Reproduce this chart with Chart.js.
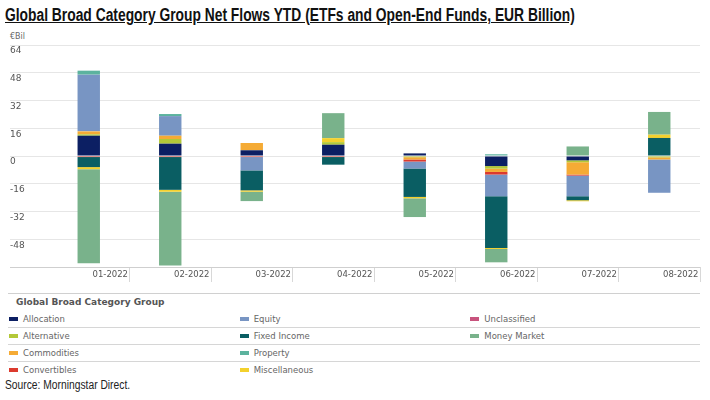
<!DOCTYPE html>
<html>
<head>
<meta charset="utf-8">
<script src="https://cdn.jsdelivr.net/npm/chart.js@4"></script>
<style>
  body { margin: 0; width: 710px; height: 400px; background: #fff; position: relative; overflow: hidden; }
  #title { position: absolute; left: 5px; top: 5px; font-family: "Liberation Sans", Arial, sans-serif; font-weight: bold; font-size: 18px; color: #111; text-decoration: underline; white-space: nowrap; transform-origin: 0 0; }
  #unit { position: absolute; left: 10px; top: 32px; font-family: "DejaVu Sans", sans-serif; font-size: 8px; color: #666; }
  #wrap { position: absolute; left: 0; top: 30px; width: 710px; height: 255px; }
  #legend { position: absolute; left: 8px; top: 293px; width: 692px; border-top: 1px solid #d0d0d0; font-family: "DejaVu Sans", sans-serif; }
  #legend .head { height: 17px; line-height: 17px; padding-left: 8px; font-size: 9px; font-weight: bold; color: #555; }
  #legend .grid { display: grid; grid-auto-flow: column; grid-template-rows: repeat(4, 17px); grid-template-columns: repeat(3, 1fr); }
  #legend .cell { height: 16px; line-height: 16px; font-size: 8.5px; color: #666; border-bottom: 1px solid #d6d6d6; white-space: nowrap; }
  #legend .cell.last { border-bottom: none; }
  #legend .mk { display: inline-block; width: 9px; height: 4px; margin: 0 5px 0 1px; vertical-align: middle; position: relative; top: -1px; }
  #source { position: absolute; left: 5px; top: 378px; font-family: "Liberation Sans", Arial, sans-serif; font-size: 12.5px; color: #222; white-space: nowrap; transform-origin: 0 0; }
</style>
</head>
<body>
<div id="title">Global Broad Category Group Net Flows YTD (ETFs and Open-End Funds, EUR Billion)</div>
<div id="unit">€Bil</div>
<div id="wrap"><canvas id="flows"></canvas></div>
<div id="legend">
  <div class="head">Global Broad Category Group</div>
  <div class="grid" id="legend-grid"></div>
</div>
<div id="source">Source: Morningstar Direct.</div>
<script>
var months = ['01-2022', '02-2022', '03-2022', '04-2022', '05-2022', '06-2022', '07-2022', '08-2022'];

// EUR billion
var allocation    = [11.7, 7.1, 3.3, 6.5, 1.5, -5.8, -2.5, 0];
var alternative   = [0.8, 2.7, 0, 1.5, -0.7, -1.5, -1.1, -0.8];
var commodities   = [1.7, 1.9, 4.2, 0, -1.3, -1.9, -7.1, -1.2];
var convertibles  = [-0.6, -0.6, -0.6, -0.6, -1.2, -1.5, -0.6, 0];
var equity        = [32.7, 11.3, -7.7, 0, -4.0, -12.5, -11.9, -19.2];
var fixedIncome   = [-5.8, -18.9, -11.5, -4.4, -16.4, -29.8, -2.3, 10.4];
var miscellaneous = [-1.2, -1.1, -0.8, 2.3, -0.8, -0.6, -0.6, 1.9];
var moneyMarket   = [-54.2, -42.5, -5.4, 14.4, -10.8, -7.7, 5.5, 13.1];
var property      = [2.3, 1.2, 0, 0, 0, 1.0, 0, 0];
var unclassified  = [0, 0, 0, 0, 0, 0, 0, 0];

var yTicks = [-64, -48, -32, -16, 0, 16, 32, 48, 64];

var series = [
    { label: 'Allocation', data: allocation, color: '#0c1f63' },
    { label: 'Alternative', data: alternative, color: '#b3c838' },
    { label: 'Commodities', data: commodities, color: '#f5ab35' },
    { label: 'Convertibles', data: convertibles, color: '#dc3a2e' },
    { label: 'Equity', data: equity, color: '#7895c3' },
    { label: 'Fixed Income', data: fixedIncome, color: '#0a5e63' },
    { label: 'Miscellaneous', data: miscellaneous, color: '#f3d12d' },
    { label: 'Money Market', data: moneyMarket, color: '#79b28b' },
    { label: 'Property', data: property, color: '#5cb39e' },
    { label: 'Unclassified', data: unclassified, color: '#c8537d' }
];

// legend is laid out column by column, 4 rows
var legendOrder = ['Allocation', 'Alternative', 'Commodities', 'Convertibles',
    'Equity', 'Fixed Income', 'Property', 'Miscellaneous',
    'Unclassified', 'Money Market', '', ''];

// squeeze the narrow headline / source font out of a regular one
function fitWidth(id, w) {
    var el = document.getElementById(id);
    el.style.transform = 'scaleX(' + (w / el.offsetWidth) + ')';
}
fitWidth('title', 570);
fitWidth('source', 125);

var grid = document.getElementById('legend-grid');
legendOrder.forEach(function (name, i) {
    var cell = document.createElement('div');
    cell.className = 'cell' + (i % 4 === 3 ? ' last' : '');
    var s = series.find(function (d) { return d.label === name; });
    if (s) {
        cell.innerHTML = '<span class="mk" style="background:' + s.color + '"></span>' + s.label;
    }
    grid.appendChild(cell);
});

new Chart(document.getElementById('flows'), {
    type: 'bar',
    data: {
        labels: months,
        datasets: series.map(function (s) {
            return {
                label: s.label,
                data: s.data,
                backgroundColor: s.color,
                borderWidth: 0,
                categoryPercentage: 1,
                barPercentage: 0.275
            };
        })
    },
    options: {
        responsive: true,
        maintainAspectRatio: false,
        animation: false,
        layout: { padding: { left: 10, right: 10, top: 15, bottom: 0 } },
        plugins: {
            legend: { display: false },
            tooltip: { enabled: false }
        },
        scales: {
            x: {
                stacked: true,
                border: { display: false },
                grid: {
                    offset: true,
                    drawOnChartArea: false,
                    drawTicks: true,
                    tickLength: 15,
                    color: function (ctx) {
                        return (ctx.index === 0 || ctx.index === months.length) ? 'rgba(0,0,0,0)' : '#d8d8d8';
                    }
                },
                ticks: {
                    autoSkip: false,
                    maxRotation: 0,
                    labelOffset: 21.5,
                    padding: -12,
                    color: '#555',
                    font: { family: 'DejaVu Sans', size: 8.5 }
                },
                afterFit: function (scale) { scale.height = 18; }
            },
            y: {
                stacked: true,
                min: -64,
                max: 64,
                border: { display: false },
                afterBuildTicks: function (scale) {
                    scale.ticks = yTicks.map(function (v) { return { value: v }; });
                },
                grid: {
                    drawTicks: true,
                    tickLength: 38,
                    color: function (ctx) {
                        return ctx.tick && ctx.tick.value === -64 ? '#cfcfcf' : '#e6e6e6';
                    }
                },
                ticks: {
                    crossAlign: 'far',
                    labelOffset: 6,
                    color: '#555',
                    font: { family: 'DejaVu Sans', size: 9 },
                    callback: function (v) { return v === -64 ? '' : v; }
                },
                afterFit: function (scale) { scale.width = 38; }
            }
        }
    }
});
</script>
</body>
</html>
